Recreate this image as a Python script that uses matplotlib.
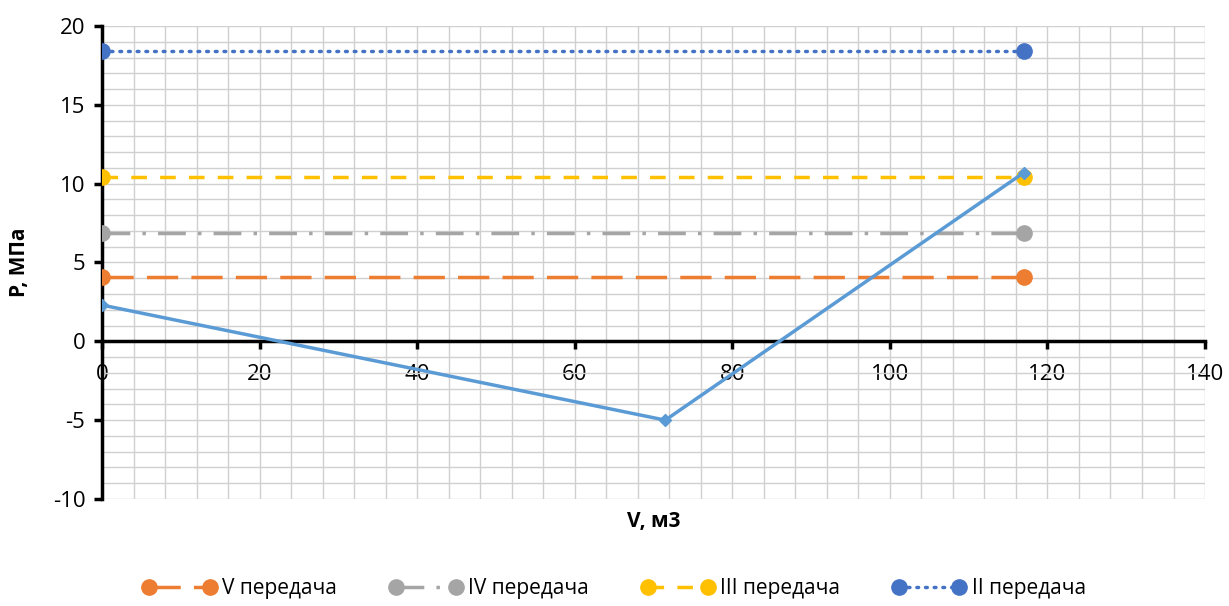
import matplotlib.pyplot as plt
from matplotlib.ticker import MultipleLocator

plt.rcParams['font.family'] = ['Open Sans', 'DejaVu Sans']
plt.rcParams['axes.unicode_minus'] = False

# main curve
v_curve = [0, 71.5, 117]
p_curve = [2.3, -5.0, 10.7]

# horizontal levels (gears)
v_levels = [0, 117]
names = ["V передача", "IV передача", "III передача", "II передача"]
levels = [4.1, 6.9, 10.4, 18.4]
colors = ["#ED7D31", "#A5A5A5", "#FFC000", "#4472C4"]
dashes = [(9, 3.8), (8, 3.5, 1, 3.5), (4.5, 3.8), (0.5, 2.0)]

fig = plt.figure(figsize=(12.29, 6.06), dpi=100)
ax = fig.add_axes([0.083, 0.1766, 0.8975, 0.7805])

for name, lev, c, d in zip(names, levels, colors, dashes):
    ln, = ax.plot(v_levels, [lev, lev], color=c, lw=2.5, marker="o", ms=11,
                  label=name, zorder=3)
    ln.set_dashes(d)
    if d[0] < 1:
        ln.set_dash_capstyle("round")

ax.plot(v_curve, p_curve, color="#5B9BD5", lw=2.5, marker="D", ms=6,
        zorder=4, label="_nolegend_")

ax.set_xlim(0, 140)
ax.set_ylim(-10, 20)
ax.xaxis.set_major_locator(MultipleLocator(20))
ax.xaxis.set_minor_locator(MultipleLocator(4))
ax.yaxis.set_major_locator(MultipleLocator(5))
ax.yaxis.set_minor_locator(MultipleLocator(1))
ax.grid(which="both", color="#D0D0D0", lw=1, zorder=0)
ax.set_axisbelow(True)

for s in ["top", "right"]:
    ax.spines[s].set_visible(False)
ax.spines["bottom"].set_position(("data", 0))
ax.spines["bottom"].set_linewidth(2.5)
ax.spines["left"].set_linewidth(2.5)
ax.tick_params(which="major", direction="out", length=6, width=2.5,
               labelsize=16, pad=6)
ax.tick_params(axis="x", pad=10)
ax.tick_params(which="minor", length=0)

ax.set_xlabel("V, м3", fontsize=15, fontweight="bold")
ax.xaxis.set_label_coords(0.5, -0.025)
ax.set_ylabel("P, МПа", fontsize=15, fontweight="bold", labelpad=16)

fig.legend(loc="lower center", bbox_to_anchor=(0.5, -0.02), ncol=4,
           frameon=False, fontsize=15, numpoints=2, handlelength=3.5,
           columnspacing=2.5, handletextpad=0.3)

fig.savefig("out.png", dpi=100)
